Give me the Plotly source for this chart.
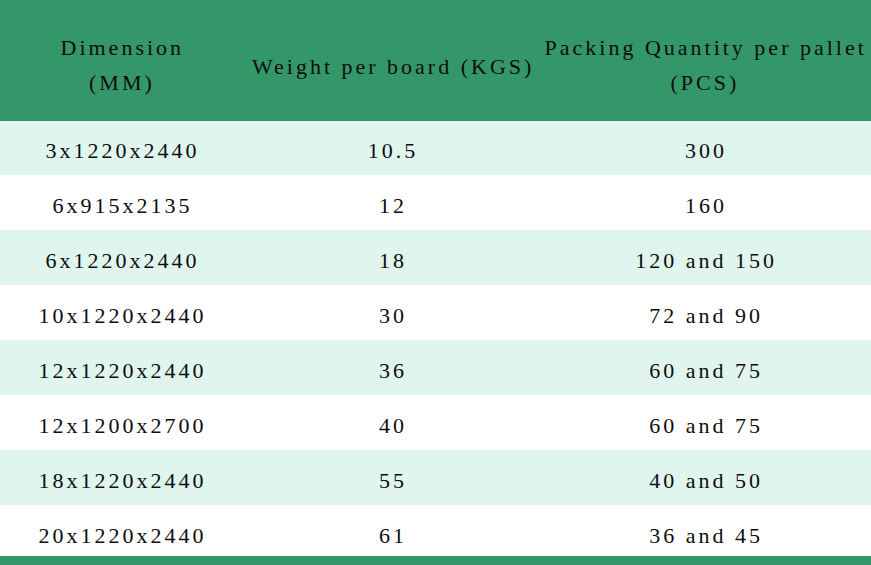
import plotly.graph_objects as go

# table contents
header_lines = [["Dimension", "(MM)"],
                ["Weight per board (KGS)"],
                ["Packing Quantity per pallet", "(PCS)"]]
dimensions = ["3x1220x2440", "6x915x2135", "6x1220x2440", "10x1220x2440",
              "12x1220x2440", "12x1200x2700", "18x1220x2440", "20x1220x2440"]
weights = ["10.5", "12", "18", "30", "36", "40", "55", "61"]
packing = ["300", "160", "120 and 150", "72 and 90", "60 and 75",
           "60 and 75", "40 and 50", "36 and 45"]

W, H = 871, 565
GREEN = "#34976a"
MINT = "#dff5ee"
WHITE = "#ffffff"
TEXT = "#0d0d0d"
FONT = "Liberation Serif"

col_widths = [245, 296, 330]
row_fill = [MINT if i % 2 == 0 else WHITE for i in range(len(dimensions))]

fig = go.Figure(go.Table(
    columnwidth=col_widths,
    header=dict(
        values=["", "", ""],
        fill_color=GREEN,
        line_color=GREEN,
        height=120,
    ),
    cells=dict(
        values=[dimensions, weights, packing],
        fill_color=[row_fill] * 3,
        line_color=[row_fill] * 3,
        align="center",
        height=55,
        font=dict(family=FONT, size=22, color=TEXT),
    ),
    domain=dict(x=[0, 1], y=[0, 1]),
))

# header labels, one annotation per line so the lines stay centred
col_centers = [122, 393, 705]
line_y = {1: [66], 2: [47, 82]}
for cx, lines in zip(col_centers, header_lines):
    for txt, yy in zip(lines, line_y[len(lines)]):
        fig.add_annotation(
            x=cx / W, y=1 - yy / H, xref="paper", yref="paper",
            text=txt, showarrow=False, xanchor="center", yanchor="middle",
            font=dict(family=FONT, size=22, color=TEXT),
        )

# green rule along the bottom edge
fig.add_shape(type="rect", xref="paper", yref="paper",
              x0=0, x1=1, y0=0, y1=9 / H,
              fillcolor=GREEN, line_width=0, layer="above")

fig.update_layout(
    width=W,
    height=H,
    margin=dict(l=0, r=0, t=0, b=0),
    paper_bgcolor=GREEN,
)

# remove page margin, add the letter spacing and vertical centring of the cell text
page_js = """
document.body.style.margin = '0';
var gd = document.getElementById('{plot_id}');
function spread(){
  gd.querySelectorAll('.cell-text').forEach(function(t){
    t.style.letterSpacing = '3px';
    t.style.translate = '0px 13px';
  });
  gd.querySelectorAll('.annotation-text').forEach(function(t){
    t.style.letterSpacing = '3px';
  });
}
spread(); setTimeout(spread, 100); setTimeout(spread, 500);
gd.on('plotly_afterplot', spread);
"""

fig.write_html("out.html", post_script=page_js, config={"displayModeBar": False})
